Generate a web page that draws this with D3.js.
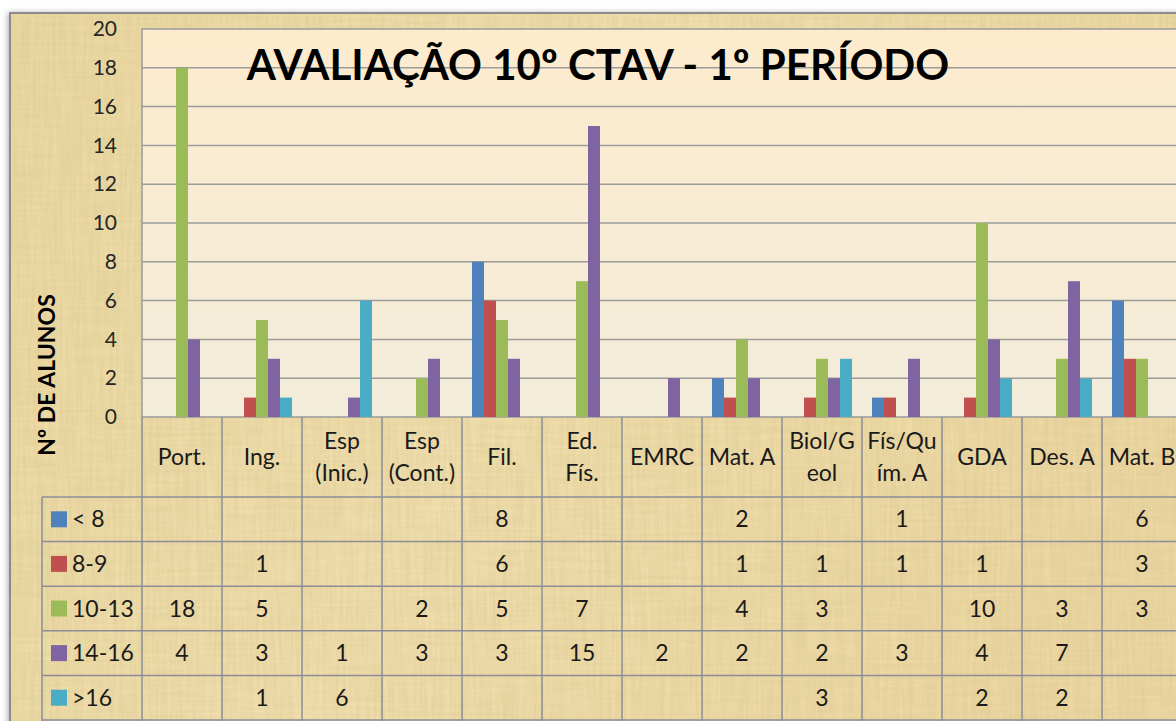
<!DOCTYPE html>
<html>
<head>
<meta charset="utf-8">
<script src="https://cdn.jsdelivr.net/npm/d3@7.9.0/dist/d3.min.js"></script>
<style>
  html, body { margin: 0; padding: 0; background: #fff; overflow: hidden; }
  svg { display: block; font-family: Lato, "Open Sans", sans-serif; }
</style>
</head>
<body>
<svg id="chart" width="1176" height="721"></svg>
<script>
// data (null = no students)
const categories = ["Port.", "Ing.", "Esp (Inic.)", "Esp (Cont.)", "Fil.", "Ed. Fís.", "EMRC",
  "Mat. A", "Biol/Geol", "Fís/Quím. A", "GDA", "Des. A", "Mat. B"];
// how the header cells break the names
const headerLines = [["Port."], ["Ing."], ["Esp", "(Inic.)"], ["Esp", "(Cont.)"], ["Fil."], ["Ed.", "Fís."],
  ["EMRC"], ["Mat. A"], ["Biol/G", "eol"], ["Fís/Qu", "ím. A"], ["GDA"], ["Des. A"], ["Mat. B"]];
const seriesNames = ["< 8", "8-9", "10-13", "14-16", ">16"];
const lessThan8 = [null, null, null, null, 8, null, null, 2, null, 1, null, null, 6];
const from8to9 = [null, 1, null, null, 6, null, null, 1, 1, 1, 1, null, 3];
const from10to13 = [18, 5, null, 2, 5, 7, null, 4, 3, null, 10, 3, 3];
const from14to16 = [4, 3, 1, 3, 3, 15, 2, 2, 2, 3, 4, 7, null];
const moreThan16 = [null, 1, 6, null, null, null, null, null, 3, null, 2, 2, null];
const yTicks = [0, 2, 4, 6, 8, 10, 12, 14, 16, 18, 20];

const series = [lessThan8, from8to9, from10to13, from14to16, moreThan16];
const colors = ["#4f81bd", "#c0504d", "#9bbb59", "#8064a2", "#4bacc6"];

const svg = d3.select("#chart");
const defs = svg.append("defs");

// papyrus look: two noise layers, one with vertical fibres, one with horizontal
function fibres(id, freq, seed) {
  const f = defs.append("filter").attr("id", id).attr("x", 0).attr("y", 0).attr("width", 1).attr("height", 1);
  f.append("feTurbulence").attr("type", "fractalNoise").attr("baseFrequency", freq).attr("numOctaves", 3).attr("seed", seed).attr("result", "n");
  f.append("feColorMatrix").attr("in", "n").attr("type", "matrix")
    .attr("values", "0 0 0 0 0.62  0 0 0 0 0.5  0 0 0 0 0.22  0.45 0 0 0 -0.08");
  f.append("feComposite").attr("in2", "SourceGraphic").attr("operator", "in");
}
fibres("paperV", "0.3 0.015", 7);
fibres("paperH", "0.015 0.3", 4);

const shadow = defs.append("filter").attr("id", "shadow").attr("x", -0.05).attr("y", -0.05).attr("width", 1.1).attr("height", 1.1);
shadow.append("feDropShadow").attr("dx", -2).attr("dy", 0).attr("stdDeviation", 3).attr("flood-color", "#000").attr("flood-opacity", 0.35);

const plotGrad = defs.append("linearGradient").attr("id", "plotBg").attr("x1", 0).attr("y1", 0).attr("x2", 0).attr("y2", 1);
plotGrad.append("stop").attr("offset", "0%").attr("stop-color", "#fdebcd");
plotGrad.append("stop").attr("offset", "100%").attr("stop-color", "#f2ecda");

const paperGrad = defs.append("linearGradient").attr("id", "paperBg").attr("x1", 0).attr("y1", 0).attr("x2", 1).attr("y2", 0.3);
paperGrad.append("stop").attr("offset", "0%").attr("stop-color", "#eedba6");
paperGrad.append("stop").attr("offset", "50%").attr("stop-color", "#f3e2b2");
paperGrad.append("stop").attr("offset", "100%").attr("stop-color", "#efdaa6");

// frame
const frame = { x: 10, y: 13, w: 1200, h: 720 };
svg.append("rect").attr("x", frame.x).attr("y", frame.y).attr("width", frame.w).attr("height", frame.h)
  .attr("fill", "url(#paperBg)").attr("filter", "url(#shadow)");
svg.append("rect").attr("x", frame.x).attr("y", frame.y).attr("width", frame.w).attr("height", frame.h)
  .attr("fill", "#000").attr("filter", "url(#paperV)");
svg.append("rect").attr("x", frame.x).attr("y", frame.y).attr("width", frame.w).attr("height", frame.h)
  .attr("fill", "#000").attr("filter", "url(#paperH)").attr("opacity", 0.7);
svg.append("rect").attr("x", frame.x).attr("y", frame.y).attr("width", frame.w).attr("height", frame.h)
  .attr("fill", "none").attr("stroke", "#8c8c8c").attr("stroke-width", 2);

const plot = { left: 142, top: 29, bottom: 417 };
const colW = 80;
const x = d3.scaleBand().domain(categories).range([plot.left, plot.left + colW * categories.length]);
const xs = d3.scaleBand().domain(d3.range(series.length)).range([0, x.bandwidth()]).paddingOuter(0.8333).paddingInner(0);
const y = d3.scaleLinear().domain([0, 20]).range([plot.bottom, plot.top]);
const plotRight = x.range()[1];

svg.append("rect").attr("x", plot.left).attr("y", plot.top)
  .attr("width", plotRight - plot.left).attr("height", plot.bottom - plot.top)
  .attr("fill", "url(#plotBg)").attr("stroke", "#9a9a9a").attr("stroke-width", 1.5);

// gridlines
svg.append("g").selectAll("line").data(yTicks.filter(d => d > 0 && d < 20)).join("line")
  .attr("x1", plot.left).attr("x2", plotRight)
  .attr("y1", d => y(d)).attr("y2", d => y(d))
  .attr("stroke", "#9c9c9c").attr("stroke-width", 1.5);

// y axis labels
const yAxis = d3.axisLeft(y).tickValues(yTicks).tickSize(0).tickPadding(25);
svg.append("g").attr("transform", `translate(${plot.left},0)`).call(yAxis)
  .call(g => g.select(".domain").remove())
  .call(g => g.selectAll("text").attr("font-size", 21).attr("fill", "#262626").attr("font-family", "Lato, sans-serif"));

// title
svg.append("text").attr("x", 598).attr("y", 80).attr("text-anchor", "middle")
  .attr("font-size", 42).attr("font-weight", "bold").attr("fill", "#000")
  .text("AVALIAÇÃO 10º CTAV - 1º PERÍODO");

// bars
series.forEach((values, si) => {
  svg.append("g").selectAll("rect")
    .data(values.map((v, i) => ({ cat: categories[i], v })).filter(d => d.v != null))
    .join("rect")
    .attr("x", d => x(d.cat) + xs(si))
    .attr("width", xs.bandwidth())
    .attr("y", d => y(d.v))
    .attr("height", d => y(0) - y(d.v))
    .attr("fill", colors[si]);
});

// y axis title
svg.append("text").attr("transform", "translate(55,375) rotate(-90)")
  .attr("text-anchor", "middle").attr("font-size", 23).attr("font-weight", "bold").attr("fill", "#000")
  .text("Nº DE ALUNOS");

// data table
const rowH = 44.6;
const headTop = plot.bottom, headBottom = 497;
const rowY = d3.scaleBand().domain(d3.range(series.length)).range([headBottom, headBottom + rowH * series.length]);
const legendLeft = 42;
const lineCol = "#8d8d99";
const fs = 23;
const table = svg.append("g");

// vertical lines
table.selectAll("line.v").data(d3.range(categories.length + 1)).join("line").attr("class", "v")
  .attr("x1", i => plot.left + i * colW).attr("x2", i => plot.left + i * colW)
  .attr("y1", headTop).attr("y2", 721)
  .attr("stroke", lineCol).attr("stroke-width", 1.5);
table.append("line").attr("x1", legendLeft).attr("x2", legendLeft).attr("y1", headBottom).attr("y2", 721)
  .attr("stroke", lineCol).attr("stroke-width", 1.5);
// horizontal lines
table.selectAll("line.h").data(d3.range(series.length + 1)).join("line").attr("class", "h")
  .attr("x1", legendLeft).attr("x2", plotRight)
  .attr("y1", i => headBottom + i * rowH).attr("y2", i => headBottom + i * rowH)
  .attr("stroke", lineCol).attr("stroke-width", 1.5);

// header labels
categories.forEach((c, i) => {
  const lines = headerLines[i];
  const cx = x(c) + x.bandwidth() / 2;
  const t = table.append("text").attr("x", cx).attr("text-anchor", "middle")
    .attr("font-size", fs).attr("fill", "#1a1a1a");
  lines.forEach((ln, k) => {
    t.append("tspan").attr("x", cx)
      .attr("y", 465 + (k - (lines.length - 1) / 2) * 32)
      .text(ln);
  });
});

// legend keys
seriesNames.forEach((name, si) => {
  const cy = rowY(si) + rowH / 2;
  table.append("rect").attr("x", 51).attr("y", cy - 8).attr("width", 16).attr("height", 16).attr("fill", colors[si]);
  table.append("text").attr("x", 72).attr("y", cy + 8).attr("font-size", fs).attr("fill", "#1a1a1a").text(name);
});

// cell values
series.forEach((values, si) => {
  table.append("g").selectAll("text")
    .data(values.map((v, i) => ({ cat: categories[i], v })).filter(d => d.v != null))
    .join("text")
    .attr("x", d => x(d.cat) + x.bandwidth() / 2)
    .attr("y", rowY(si) + rowH / 2 + 8)
    .attr("text-anchor", "middle").attr("font-size", fs).attr("fill", "#1a1a1a")
    .text(d => d.v);
});
</script>
</body>
</html>
